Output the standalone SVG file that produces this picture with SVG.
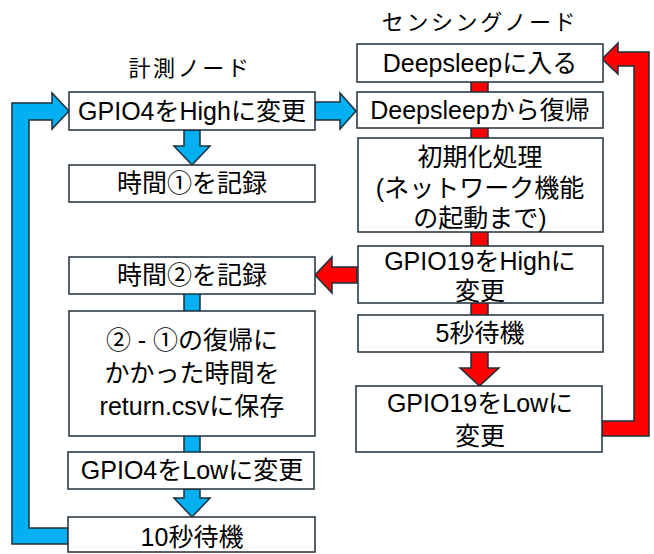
<svg xmlns="http://www.w3.org/2000/svg" width="654" height="554" viewBox="0 0 654 554">
<style>
.box{fill:#ffffff;stroke:#1e2f3c;stroke-width:1.5}
.blue{fill:#00b0f0;stroke:#1e2f3c;stroke-width:1.5;stroke-linejoin:miter}
.red{fill:#ff0000;stroke:#1e2f3c;stroke-width:1.5;stroke-linejoin:miter}
text{font-family:"Liberation Sans","Noto Sans CJK JP",sans-serif;fill:#000000;text-anchor:middle}
.t{font-size:25px}
.title{font-size:22px;letter-spacing:2.6px}
</style>
<rect width="654" height="554" fill="#ffffff"/>
<text class="title" x="190" y="76">計測ノード</text>
<text class="title" x="480" y="30">センシングノード</text>
<g id="connectors">
  <!-- blue -->
  <polygon class="blue" points="315,102 340,102 340,93 356,111 340,129 340,120 315,120"/>
  <polygon class="blue" points="184,130 200,130 200,146 210,146 192,165 174,146 184,146"/>
  <rect class="blue" x="184" y="293" width="16" height="19"/>
  <rect class="blue" x="184" y="435" width="16" height="18"/>
  <polygon class="blue" points="184,489 200,489 200,498 210,498 192,517 174,498 184,498"/>
  <polygon class="blue" points="68,528 29,528 29,120 52,120 52,129 69,111 52,93 52,103 12,103 12,544 68,544"/>
  <!-- red -->
  <rect class="red" x="471" y="81" width="17" height="12"/>
  <rect class="red" x="471" y="127" width="17" height="12"/>
  <rect class="red" x="471" y="231" width="17" height="16"/>
  <rect class="red" x="471" y="302" width="17" height="14"/>
  <polygon class="red" points="471,352 488,352 488,368 499,368 479.5,386 460,368 471,368"/>
  <polygon class="red" points="357,267 332,267 332,257 315,275 332,293 332,283 357,283"/>
  <polygon class="red" points="602,421 634,421 634,66 618,66 618,74 602,59 618,43 618,52 649,52 649,436 602,436"/>
</g>
<g id="n_gpio4_high">
  <rect class="box" x="69" y="92" width="246" height="38"/>
  <text class="t" x="192" y="120">GPIO4をHighに変更</text>
</g>
<g id="n_time1">
  <rect class="box" x="69" y="165" width="246" height="37"/>
  <text class="t" x="192" y="192">時間①を記録</text>
</g>
<g id="n_time2">
  <rect class="box" x="69" y="257" width="246" height="37"/>
  <text class="t" x="192" y="284">時間②を記録</text>
</g>
<g id="n_save">
  <rect class="box" x="69" y="311" width="246" height="125"/>
  <text class="t" x="192" y="349">② - ①の復帰に</text>
  <text class="t" x="192" y="382">かかった時間を</text>
  <text class="t" x="192" y="415">return.csvに保存</text>
</g>
<g id="n_gpio4_low">
  <rect class="box" x="68" y="452" width="246" height="37"/>
  <text class="t" x="192" y="479">GPIO4をLowに変更</text>
</g>
<g id="n_wait10">
  <rect class="box" x="68" y="517" width="247" height="35"/>
  <text class="t" x="192" y="546">10秒待機</text>
</g>
<g id="n_deepsleep_enter">
  <rect class="box" x="357" y="44" width="246" height="38"/>
  <text class="t" x="480" y="72">Deepsleepに入る</text>
</g>
<g id="n_deepsleep_wake">
  <rect class="box" x="357" y="92" width="246" height="36"/>
  <text class="t" x="480" y="119">Deepsleepから復帰</text>
</g>
<g id="n_init">
  <rect class="box" x="358" y="138" width="245" height="94"/>
  <text class="t" x="480" y="166">初期化処理</text>
  <text class="t" x="480" y="197">(ネットワーク機能</text>
  <text class="t" x="480" y="227">の起動まで)</text>
</g>
<g id="n_gpio19_high">
  <rect class="box" x="358" y="246" width="245" height="57"/>
  <text class="t" x="480" y="270">GPIO19をHighに</text>
  <text class="t" x="480" y="300">変更</text>
</g>
<g id="n_wait5">
  <rect class="box" x="358" y="315" width="245" height="37"/>
  <text class="t" x="480" y="342">5秒待機</text>
</g>
<g id="n_gpio19_low">
  <rect class="box" x="356" y="386" width="246" height="66"/>
  <text class="t" x="480" y="412">GPIO19をLowに</text>
  <text class="t" x="480" y="445">変更</text>
</g>
</svg>
